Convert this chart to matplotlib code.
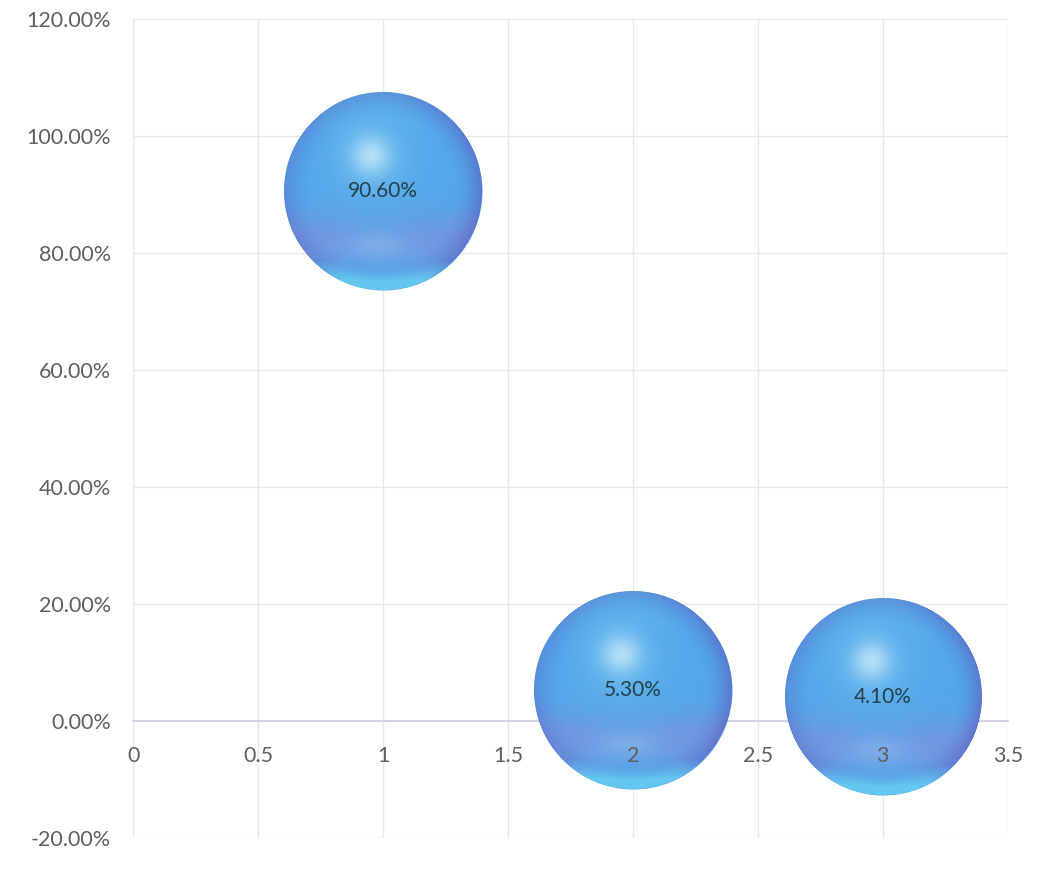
import numpy as np
import matplotlib
matplotlib.use("Agg")
import matplotlib.pyplot as plt
from matplotlib.ticker import FuncFormatter
from matplotlib.colors import to_rgb
from matplotlib.offsetbox import OffsetImage, AnnotationBbox

# ---- data ----
x_vals = [1, 2, 3]
y_vals = [0.906, 0.053, 0.041]
bubble_sizes = [1.0, 1.0, 0.98]
labels = ["90.60%", "5.30%", "4.10%"]
x_ticks = [0, 0.5, 1, 1.5, 2, 2.5, 3, 3.5]
x_tick_labels = ["0", "0.5", "1", "1.5", "2", "2.5", "3", "3.5"]
y_ticks = [-0.2, 0.0, 0.2, 0.4, 0.6, 0.8, 1.0, 1.2]

plt.rcParams['font.family'] = ['Lato', 'DejaVu Sans']

DPI = 100
fig = plt.figure(figsize=(10.4, 8.69), dpi=DPI)
ax = fig.add_axes([0.128, 0.0357, 0.841, 0.9425])
ax.set_xlim(0, 3.5)
ax.set_ylim(-0.2, 1.2)

grid_c = "#e8e6f0"
ax.set_xticks(x_ticks)
ax.set_xticklabels(x_tick_labels)
ax.set_yticks(y_ticks)
ax.yaxis.set_major_formatter(FuncFormatter(lambda v, p: f"{v*100:.2f}%"))
ax.grid(True, axis='y', color=grid_c, linewidth=1.0)
ax.set_axisbelow(True)
for t in x_ticks:
    ax.axvline(t, color=grid_c, linewidth=1.0, zorder=0.6)
for s in ['top', 'right', 'left']:
    ax.spines[s].set_visible(False)
ax.spines['bottom'].set_position(('data', 0))
ax.spines['bottom'].set_color("#d2cbe3")
ax.spines['bottom'].set_linewidth(1.2)
ax.spines['bottom'].set_zorder(1)
ax.tick_params(axis='both', length=0, labelsize=15.5, labelcolor="#5f5f5f")
ax.tick_params(axis='x', pad=18)
ax.tick_params(axis='y', pad=16)
ax.xaxis.set_zorder(10)

# ---- sphere shading image ----
def sphere_image(n):
    lin = (np.arange(n) + 0.5) / n * 2 - 1
    u, v = np.meshgrid(lin, -lin)
    r = np.sqrt(u**2 + v**2)
    base = np.array(to_rgb("#52a8ea"))
    img = np.ones((n, n, 3)) * base
    def mix(img, col, w):
        w = np.clip(w, 0, 1)[..., None]
        return img * (1 - w) + np.array(to_rgb(col)) * w
    # top slightly lighter/cyan
    img = mix(img, "#5ab6ef", np.clip((v - 0.5) / 0.5, 0, 1) * 0.5)
    # lavender band in the lower half
    wb = np.exp(-((v + 0.5) / 0.3) ** 2) * (0.55 - 0.2 * np.exp(-((u + 0.05) / 0.35) ** 2))
    img = mix(img, "#888bdb", wb)
    # limb darkening (purple), stronger on the right
    wl = np.clip((r - 0.72) / 0.28, 0, 1) ** 1.6 * (0.4 + 0.3 * np.clip(u, 0, 1))
    img = mix(img, "#5c64c2", wl)
    # bottom cyan rim
    wr = np.clip((-v - 0.7) / 0.2, 0, 1) * np.clip((r - 0.76) / 0.16, 0, 1)
    img = mix(img, "#66cdf4", wr * 0.9)
    # soft reflection below centre
    wsr = np.exp(-(((u + 0.05) / 0.32) ** 2 + ((v + 0.55) / 0.14) ** 2)) * 0.35
    img = mix(img, "#a9c6ef", wsr)
    # highlight
    wh = np.exp(-(((u + 0.12) ** 2 + (v - 0.36) ** 2) / (2 * 0.13 ** 2)))
    img = mix(img, "#e4f7fd", wh * 0.8)
    wh2 = np.exp(-(((u + 0.12) ** 2 + (v - 0.36) ** 2) / (2 * 0.3 ** 2)))
    img = mix(img, "#8fd0f4", wh2 * 0.35)
    alpha = np.clip((1 - r) * n / 2 + 0.5, 0, 1)
    return np.dstack([img, alpha])

R_px = 99.0
N_IMG = 400
for xv, yv, sz, lab in zip(x_vals, y_vals, bubble_sizes, labels):
    R = R_px * np.sqrt(sz)
    R_pt = R * 72 / DPI
    ax.scatter([xv], [yv], s=(2 * R_pt) ** 2, color="#52a8ea", linewidths=0,
               zorder=3, clip_on=False)
    im = OffsetImage(sphere_image(N_IMG), zoom=(2 * R) / (N_IMG * DPI / 72),
                     interpolation='antialiased')
    ab = AnnotationBbox(im, (xv, yv), frameon=False, pad=0, zorder=4,
                        box_alignment=(0.5, 0.5), annotation_clip=False)
    ax.add_artist(ab)
    ax.annotate(lab, (xv, yv), ha='center', va='center', fontsize=15,
                color="#24404c", zorder=20)

fig.savefig("out.png", dpi=DPI)
